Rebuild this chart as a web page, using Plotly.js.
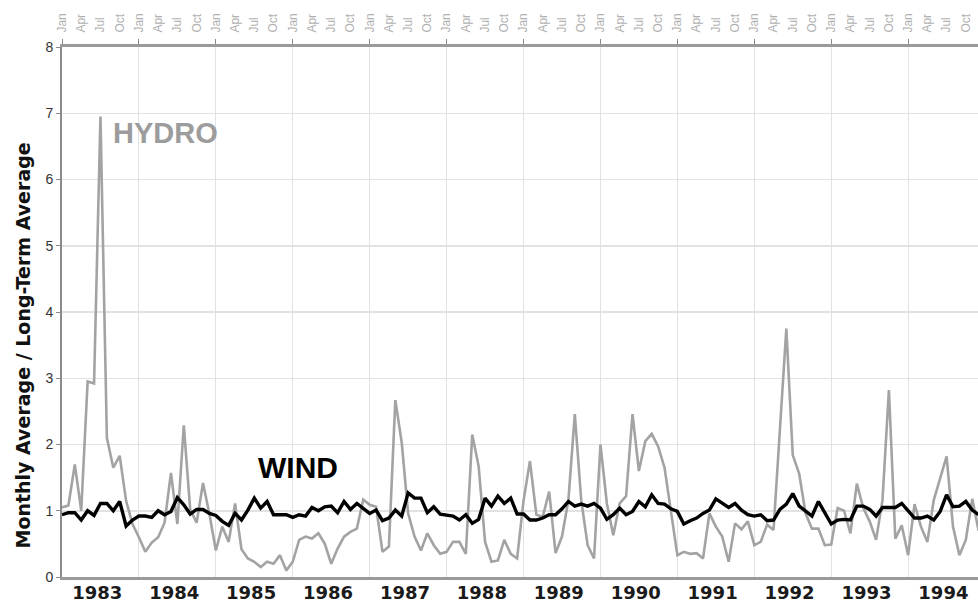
<!DOCTYPE html>
<html>
<head>
<meta charset="utf-8">
<script src="https://cdn.plot.ly/plotly-3.0.1.min.js"></script>
<style>html,body{margin:0;padding:0;background:#fff;}#chart{width:978px;height:608px;}</style>
</head>
<body>
<div id="chart"></div>
<script>
// Years shown on the bottom axis
const years = [1983, 1984, 1985, 1986, 1987, 1988, 1989, 1990, 1991, 1992, 1993, 1994];
// Month labels shown on the top axis (every third month)
const topMonths = ['Jan', 'Apr', 'Jul', 'Oct'];
const topMonthOffsets = [0, 3, 6, 9];

// Monthly average / long-term average, Jan 1983 onward
const hydro = [
  1.05, 1.08, 1.70, 1.00, 2.95, 2.92, 6.95, 2.10, 1.65, 1.83, 1.15, 0.80,
  0.60, 0.38, 0.52, 0.60, 0.82, 1.57, 0.80, 2.29, 1.02, 0.82, 1.42, 0.95,
  0.40, 0.76, 0.53, 1.11, 0.42, 0.28, 0.23, 0.15, 0.23, 0.20, 0.33, 0.10,
  0.23, 0.56, 0.61, 0.58, 0.66, 0.50, 0.20, 0.43, 0.61, 0.68, 0.73, 1.17,
  1.09, 1.06, 0.38, 0.46, 2.67, 2.03, 0.96, 0.61, 0.40, 0.66, 0.48, 0.35,
  0.38, 0.53, 0.53, 0.35, 2.15, 1.67, 0.53, 0.23, 0.25, 0.56, 0.35, 0.28,
  1.15, 1.75, 0.94, 0.91, 1.29, 0.36, 0.61, 1.16, 2.46, 1.16, 0.48, 0.28,
  2.00, 1.11, 0.63, 1.11, 1.22, 2.46, 1.60, 2.05, 2.16, 1.97, 1.65, 0.96,
  0.33, 0.38, 0.35, 0.36, 0.28, 0.96, 0.76, 0.61, 0.23, 0.81, 0.72, 0.84,
  0.48, 0.53, 0.79, 0.71, 2.20, 3.75, 1.84, 1.56, 0.96, 0.73, 0.73, 0.48,
  0.49, 1.04, 1.00, 0.66, 1.41, 1.04, 0.84, 0.56, 1.16, 2.82, 0.58, 0.78,
  0.33, 1.10, 0.76, 0.53, 1.16, 1.49, 1.82, 0.76, 0.33, 0.56, 1.18, 0.70
];
const wind = [
  0.94, 0.97, 0.97, 0.86, 1.00, 0.93, 1.11, 1.11, 1.00, 1.14, 0.77, 0.86,
  0.92, 0.92, 0.90, 1.00, 0.94, 0.99, 1.20, 1.09, 0.95, 1.02, 1.02, 0.96,
  0.93, 0.84, 0.78, 0.96, 0.86, 1.01, 1.19, 1.04, 1.14, 0.94, 0.94, 0.94,
  0.90, 0.94, 0.92, 1.05, 1.00, 1.06, 1.07, 0.97, 1.14, 1.02, 1.11, 1.04,
  0.96, 1.01, 0.85, 0.89, 1.01, 0.92, 1.27, 1.19, 1.19, 0.97, 1.06, 0.95,
  0.94, 0.92, 0.86, 0.94, 0.81, 0.87, 1.19, 1.07, 1.22, 1.11, 1.19, 0.95,
  0.95, 0.86, 0.86, 0.89, 0.94, 0.94, 1.03, 1.14, 1.07, 1.10, 1.07, 1.11,
  1.04, 0.87, 0.94, 1.04, 0.94, 0.99, 1.14, 1.06, 1.24, 1.11, 1.10, 1.03,
  0.99, 0.80, 0.85, 0.89, 0.96, 1.01, 1.18, 1.11, 1.05, 1.11, 1.01, 0.94,
  0.92, 0.94, 0.85, 0.86, 1.02, 1.10, 1.26, 1.07, 1.00, 0.92, 1.14, 0.96,
  0.80, 0.86, 0.87, 0.86, 1.07, 1.07, 1.02, 0.92, 1.05, 1.05, 1.05, 1.11,
  0.99, 0.89, 0.89, 0.92, 0.86, 0.99, 1.24, 1.06, 1.07, 1.14, 1.01, 0.94
];

const monthIndex = hydro.map((_, i) => i);
const yearStarts = years.map((_, k) => 12 * k);
const yearMids = years.map((_, k) => 12 * k + 5.5);
const topVals = [], topText = [];
years.forEach((_, k) => {
  topMonthOffsets.forEach((m, j) => { topVals.push(12 * k + m); topText.push(topMonths[j]); });
});

const xRange = [0, 142.9];
const FONT = 'Liberation Sans, Arial, sans-serif';
const WIDE = 'DejaVu Sans, Verdana, sans-serif';

const traces = [
  {
    x: monthIndex, y: hydro, type: 'scatter', mode: 'lines', name: 'HYDRO',
    line: {color: '#a3a3a3', width: 2.6}, xaxis: 'x', yaxis: 'y', hoverinfo: 'skip'
  },
  {
    x: monthIndex, y: wind, type: 'scatter', mode: 'lines', name: 'WIND',
    line: {color: '#000000', width: 3.4}, xaxis: 'x2', yaxis: 'y', hoverinfo: 'skip'
  }
];

const layout = {
  width: 978, height: 608,
  margin: {l: 62, r: 0, t: 47, b: 31},
  paper_bgcolor: '#ffffff', plot_bgcolor: '#ffffff',
  showlegend: false,
  font: {family: FONT},
  xaxis: {
    range: xRange, tickmode: 'array', tickvals: yearMids, ticktext: years.map(String),
    showgrid: false, zeroline: false, ticks: '', ticklen: 0, ticklabelstandoff: -3,
    tickfont: {size: 18, color: '#1a1a1a', family: WIDE, weight: 'bold'},
    showline: true, linecolor: '#9a9a9a', linewidth: 3,
    minor: {tickmode: 'array', tickvals: yearStarts, showgrid: true, gridcolor: '#e2e2e2', gridwidth: 1, ticks: ''}
  },
  xaxis2: {
    range: xRange, overlaying: 'x', side: 'top', anchor: 'y',
    tickmode: 'array', tickvals: topVals, ticktext: topText, tickangle: -90,
    showgrid: false, zeroline: false, ticks: '', ticklen: 0, ticklabelstandoff: 9,
    tickfont: {size: 12, color: '#b0b0b0', family: FONT},
    showline: true, linecolor: '#9a9a9a', linewidth: 3,
    minor: {tickmode: 'array', tickvals: yearStarts, ticks: 'outside', ticklen: 5, tickcolor: '#8a8a8a', tickwidth: 1, showgrid: false}
  },
  yaxis: {
    range: [0, 8], dtick: 1, tick0: 0,
    showgrid: true, gridcolor: '#e2e2e2', gridwidth: 1.5, zeroline: false,
    ticks: 'outside', ticklen: 4, tickcolor: '#8a8a8a',
    tickfont: {size: 14, color: '#333333', family: FONT},
    showline: true, linecolor: '#8a8a8a', linewidth: 2
  },
  annotations: [
    {
      text: 'Monthly Average / Long-Term Average', xref: 'paper', yref: 'paper',
      x: -0.043, y: 0.436, textangle: -90, showarrow: false, xanchor: 'center', yanchor: 'middle',
      font: {size: 19, color: '#111111', family: WIDE, weight: 'bold'}
    },
    {
      text: 'HYDRO', xref: 'x', yref: 'y', x: 16.2, y: 6.7, showarrow: false,
      xanchor: 'center', yanchor: 'middle',
      font: {size: 29, color: '#9c9c9c', family: FONT, weight: 'bold'}
    },
    {
      text: 'WIND', xref: 'x', yref: 'y', x: 36.8, y: 1.66, showarrow: false,
      xanchor: 'center', yanchor: 'middle',
      font: {size: 30, color: '#000000', family: FONT, weight: 'bold'}
    }
  ]
};

Plotly.newPlot('chart', traces, layout, {displayModeBar: false, staticPlot: true});
</script>
</body>
</html>
